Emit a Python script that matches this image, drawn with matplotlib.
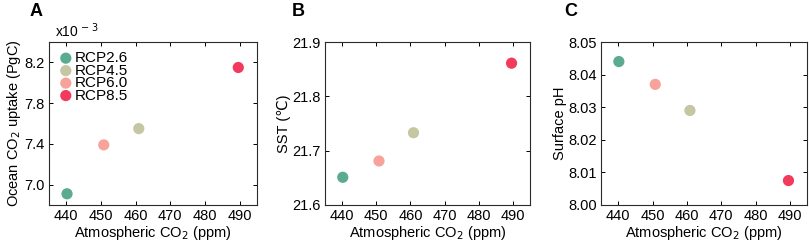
import matplotlib.pyplot as plt

plt.rcParams['font.family'] = ['Liberation Sans', 'DejaVu Sans']
plt.rcParams['font.size'] = 10.5

scenarios = ["RCP2.6", "RCP4.5", "RCP6.0", "RCP8.5"]
colors = ["#5aab8f", "#c5c6a2", "#f7a39c", "#f23a5c"]
co2 = [440.2, 460.9, 450.8, 489.6]

uptake = [6.91, 7.55, 7.39, 8.15]      # x10^-3 PgC
sst = [21.651, 21.733, 21.681, 21.861]
ph = [8.044, 8.029, 8.037, 8.0075]

fig = plt.figure(figsize=(8.09, 2.42), dpi=100)
axA = fig.add_axes([49/809, 37/242, 208/809, 163/242])
axB = fig.add_axes([325/809, 37/242, 205/809, 163/242])
axC = fig.add_axes([601/809, 37/242, 206/809, 163/242])

def style(ax):
    ax.set_xlim(435, 495)
    ax.set_xticks([440, 450, 460, 470, 480, 490])
    ax.tick_params(direction="in", top=True, right=True, length=3, width=0.7, labelsize=10.5, pad=3)
    for s in ax.spines.values():
        s.set_linewidth(0.8)
        s.set_color("#2a2a2a")
    ax.set_xlabel("Atmospheric CO$_2$ (ppm)", fontsize=10.5, labelpad=0.5)

for i in range(4):
    axA.scatter(co2[i], uptake[i], s=65, color=colors[i], label=scenarios[i], edgecolors="none", zorder=3)
    axB.scatter(co2[i], sst[i], s=65, color=colors[i], edgecolors="none", zorder=3)
    axC.scatter(co2[i], ph[i], s=65, color=colors[i], edgecolors="none", zorder=3)

style(axA)
axA.set_ylim(6.8, 8.4)
axA.set_yticks([7.0, 7.4, 7.8, 8.2])
axA.set_yticklabels(["7.0", "7.4", "7.8", "8.2"])
axA.set_ylabel("Ocean CO$_2$ uptake (PgC)", fontsize=10.5, labelpad=1)
axA.text(0.03, 1.03, "x10$^{\\,-3}$", transform=axA.transAxes, fontsize=10)
axA.legend(loc="upper left", frameon=False, handletextpad=0.1, borderaxespad=0.0,
           labelspacing=-0.1, fontsize=11, borderpad=0.6, handlelength=1.0)

style(axB)
axB.set_ylim(21.6, 21.9)
axB.set_yticks([21.6, 21.7, 21.8, 21.9])
axB.set_ylabel("SST (\u2103)", fontsize=10.5, labelpad=1)

style(axC)
axC.set_ylim(8.0, 8.05)
axC.set_yticks([8.00, 8.01, 8.02, 8.03, 8.04, 8.05])
axC.set_yticklabels(["8.00", "8.01", "8.02", "8.03", "8.04", "8.05"])
axC.set_ylabel("Surface pH", fontsize=10.5, labelpad=1)

fig.text(36/809, 1 - 12/242, "A", fontsize=13, fontweight="bold", va="center", ha="center")
fig.text(298/809, 1 - 12/242, "B", fontsize=13, fontweight="bold", va="center", ha="center")
fig.text(571/809, 1 - 12/242, "C", fontsize=13, fontweight="bold", va="center", ha="center")

fig.savefig("out.png", dpi=100)
